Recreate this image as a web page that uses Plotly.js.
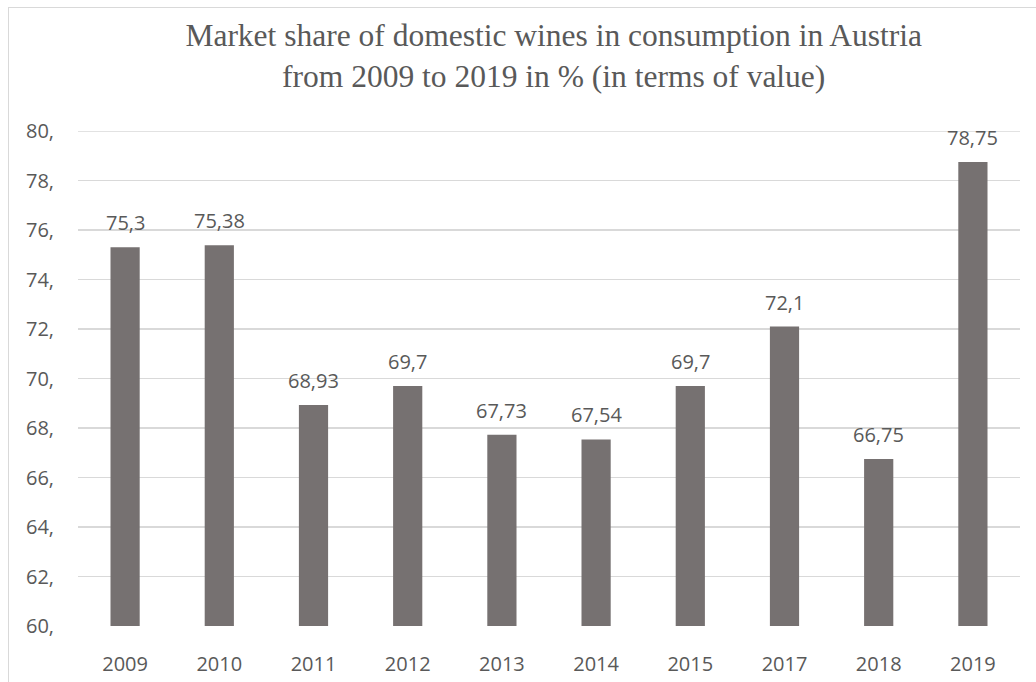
<!DOCTYPE html>
<html>
<head>
<meta charset="utf-8">
<script src="https://cdn.plot.ly/plotly-3.0.1.min.js"></script>
<style>
html,body{margin:0;padding:0;background:#fff;}
#wrap{position:relative;width:1036px;height:682px;overflow:hidden;}
#chart{width:1036px;height:682px;}
#frame{position:absolute;left:8px;top:7px;width:1040px;height:690px;border:1px solid #d9d9d9;pointer-events:none;box-sizing:border-box;}
</style>
</head>
<body>
<div id="wrap"><div id="chart"></div><div id="frame"></div></div>
<script>
const years = ["2009","2010","2011","2012","2013","2014","2015","2017","2018","2019"];
const shares = [75.3, 75.38, 68.93, 69.7, 67.73, 67.54, 69.7, 72.1, 66.75, 78.75];
const labels = ["75,3","75,38","68,93","69,7","67,73","67,54","69,7","72,1","66,75","78,75"];
const yTickVals = [60,62,64,66,68,70,72,74,76,78,80];
const yTickText = ["60,","62,","64,","66,","68,","70,","72,","74,","76,","78,","80,"];

const textColor = "#595959";
const sans = "Open Sans, Liberation Sans, sans-serif";

const trace = {
  type: "bar",
  x: years,
  y: shares,
  marker: {color: "#767171"},
  hoverinfo: "none"
};

// category axis: annotations placed by category index
const annotations = years.map((yr, i) => ({
  x: i, y: shares[i], xref: "x", yref: "y",
  text: labels[i], showarrow: false,
  yanchor: "bottom", yshift: 9,
  font: {family: sans, size: 20, color: textColor}
}));

const yMax = yTickVals[yTickVals.length - 1];

const layout = {
  width: 1036, height: 682,
  margin: {l: 78, r: 16, t: 131, b: 56},
  paper_bgcolor: "#ffffff",
  plot_bgcolor: "#ffffff",
  showlegend: false,
  bargap: 0.69,
  title: {
    text: "Market share of domestic wines in consumption in Austria<br>from 2009 to 2019 in % (in terms of value)",
    font: {family: "Liberation Serif, Times New Roman, serif", size: 31.5, color: textColor},
    x: 0.505, xanchor: "center", xref: "paper",
    y: 0.932, yanchor: "middle", yref: "container"
  },
  xaxis: {
    type: "category",
    categoryorder: "array",
    categoryarray: years,
    range: [-0.5, years.length - 0.5],
    autorange: false,
    showgrid: false,
    zeroline: false,
    showline: false,
    ticks: "outside",
    ticklen: 20,
    tickcolor: "rgba(0,0,0,0)",
    tickfont: {family: sans, size: 20, color: textColor}
  },
  yaxis: {
    range: [yTickVals[0], yMax],
    autorange: false,
    tickvals: yTickVals,
    ticktext: yTickText,
    showgrid: true,
    gridcolor: "#d9d9d9",
    gridwidth: 1.5,
    zeroline: false,
    showline: false,
    ticks: "outside",
    ticklen: 19,
    tickcolor: "rgba(0,0,0,0)",
    tickfont: {family: sans, size: 20, color: textColor}
  },
  shapes: [{
    type: "line", xref: "paper", yref: "y",
    x0: 0, x1: 1, y0: yMax, y1: yMax,
    line: {color: "#d9d9d9", width: 1.5},
    layer: "below"
  }],
  annotations: annotations
};

Plotly.newPlot("chart", [trace], layout, {staticPlot: true, displayModeBar: false});
</script>
</body>
</html>
